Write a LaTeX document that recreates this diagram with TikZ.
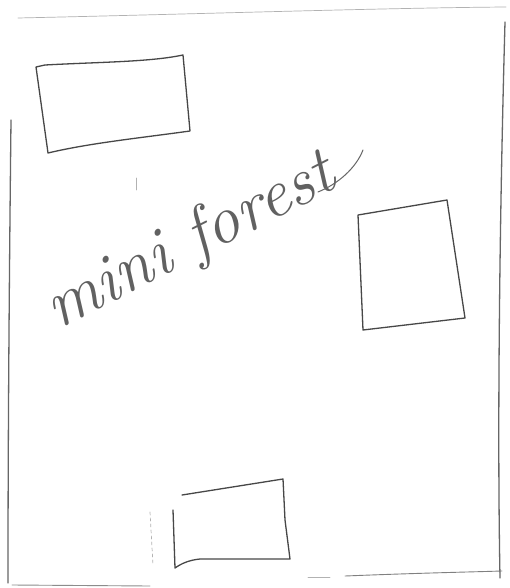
\documentclass[tikz,border=0pt]{standalone}
\usepackage{fontspec}
\begin{document}
\begin{tikzpicture}[x=1pt,y=-1pt,
  pencil/.style={draw=black!72, line width=1.3pt, line join=round, line cap=round},
  faint/.style={draw=black!30, line width=0.7pt, line cap=round},
  handtext/.style={text=black!62, font=\fontsize{68}{68}\selectfont\itshape, inner sep=0pt}]
\useasboundingbox[fill=white] (0,0) rectangle (509,588);
% outer frame
\draw[faint] (18,18) .. controls (200,14) and (380,8) .. (506,7);
\draw[pencil, draw=black!60] (505,22) .. controls (500,200) and (497,420) .. (500,578);
\draw[pencil, draw=black!60] (11,120) .. controls (9,300) and (8,450) .. (8,583);
\draw[faint, draw=black!45, line width=0.9pt] (12,585) -- (150,586);
\draw[faint, draw=black!50, line width=0.9pt] (345,576) .. controls (420,573) and (470,572) .. (502,571);
\draw[faint] (308,577) -- (330,577);
% top-left rectangle
\draw[pencil] (36,67) -- (45,65) .. controls (100,62) and (150,62) .. (183,55) -- (190,131) .. controls (140,138) and (90,143) .. (48,153) -- (36,67);
% right rectangle
\draw[pencil] (358,215) -- (447,200) -- (465,318) -- (363,330) -- (358,215);
% bottom rectangle
\draw[pencil] (182,495) -- (283,479) -- (285,520) -- (290,559) -- (200,559) .. controls (190,560) and (182,563) .. (175,568) -- (173,510);
% small marks
\draw[faint] (136,178) -- (136,190);
\draw[faint, dashed] (150,512) -- (153,565);
% text
\node[handtext, rotate=27, anchor=base west] (title) at (58,330) {mini forest};
\draw[faint, draw=black!60, line width=1pt] (318,192) .. controls (338,184) and (356,168) .. (363,150);
\end{tikzpicture}
\end{document}
